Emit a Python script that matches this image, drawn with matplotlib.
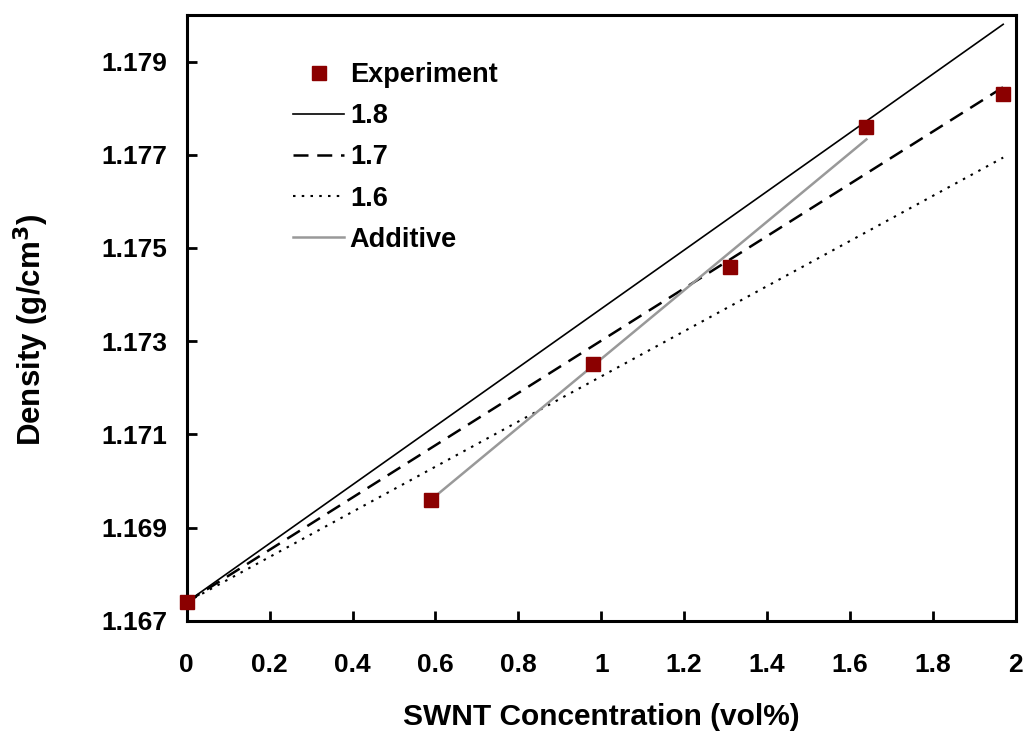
import matplotlib
matplotlib.use("Agg")
import matplotlib.pyplot as plt

plt.rcParams['font.family'] = ['Liberation Sans', 'DejaVu Sans']
plt.rcParams['font.weight'] = 'bold'

# Measured densities
exp_conc = [0.0, 0.59, 0.98, 1.31, 1.64, 1.97]
exp_density = [1.1674, 1.1696, 1.1725, 1.1746, 1.1776, 1.1783]

# Model lines for assumed SWNT densities (g/cm^3)
model_conc = [0.0, 1.97]
model_18 = [1.1674, 1.1798]
model_17 = [1.1674, 1.17845]
model_16 = [1.1674, 1.17694]

# Additive rule
add_conc = [0.59, 1.64]
add_density = [1.1696, 1.17733]

x_ticks = [0, 0.2, 0.4, 0.6, 0.8, 1, 1.2, 1.4, 1.6, 1.8, 2]
x_tick_labels = ['0', '0.2', '0.4', '0.6', '0.8', '1', '1.2', '1.4', '1.6', '1.8', '2']
y_ticks = [1.167, 1.169, 1.171, 1.173, 1.175, 1.177, 1.179]
y_tick_labels = ['1.167', '1.169', '1.171', '1.173', '1.175', '1.177', '1.179']

fig = plt.figure(figsize=(10.29, 7.31), dpi=100)
ax = fig.add_axes([0.1815, 0.1509, 0.8055, 0.8286])

ax.plot(exp_conc, exp_density, linestyle='none', marker='s', markersize=9.5,
        color='#8B0000', markeredgecolor='#8B0000', label='Experiment',
        zorder=5, clip_on=False)
ax.plot(model_conc, model_18, color='black', linewidth=1.2, label='1.8')
ax.plot(model_conc, model_17, color='black', linewidth=1.8, dashes=(6, 3.5), label='1.7')
ax.plot(model_conc, model_16, color='black', linewidth=1.5, dashes=(1.2, 3), label='1.6')
ax.plot(add_conc, add_density, color='#999999', linewidth=1.8, label='Additive')

ax.set_xlim(0, 2)
ax.set_ylim(1.167, 1.180)
ax.set_xticks(x_ticks)
ax.set_xticklabels(x_tick_labels)
ax.set_yticks(y_ticks)
ax.set_yticklabels(y_tick_labels)

ax.tick_params(axis='both', direction='in', length=7, width=2, labelsize=19)
ax.tick_params(axis='x', pad=23)
ax.tick_params(axis='y', pad=14)
for lbl in ax.get_xticklabels() + ax.get_yticklabels():
    lbl.set_fontweight('bold')
for sp in ax.spines.values():
    sp.set_linewidth(2.2)

ax.set_xlabel('SWNT Concentration (vol%)', fontsize=21.5, fontweight='bold')
ax.set_ylabel('Density (g/cm$^\\mathbf{3}$)', fontsize=22.5, fontweight='bold')
ax.xaxis.set_label_coords(0.5, -0.136)
ax.yaxis.set_label_coords(-0.164, 0.48)

leg = ax.legend(loc='upper left', bbox_to_anchor=(0.115, 0.94), frameon=False,
                handlelength=1.9, handletextpad=0.2, labelspacing=0.56,
                borderaxespad=0, prop={'weight': 'bold', 'size': 19.5})

fig.savefig('out.png', dpi=100)
